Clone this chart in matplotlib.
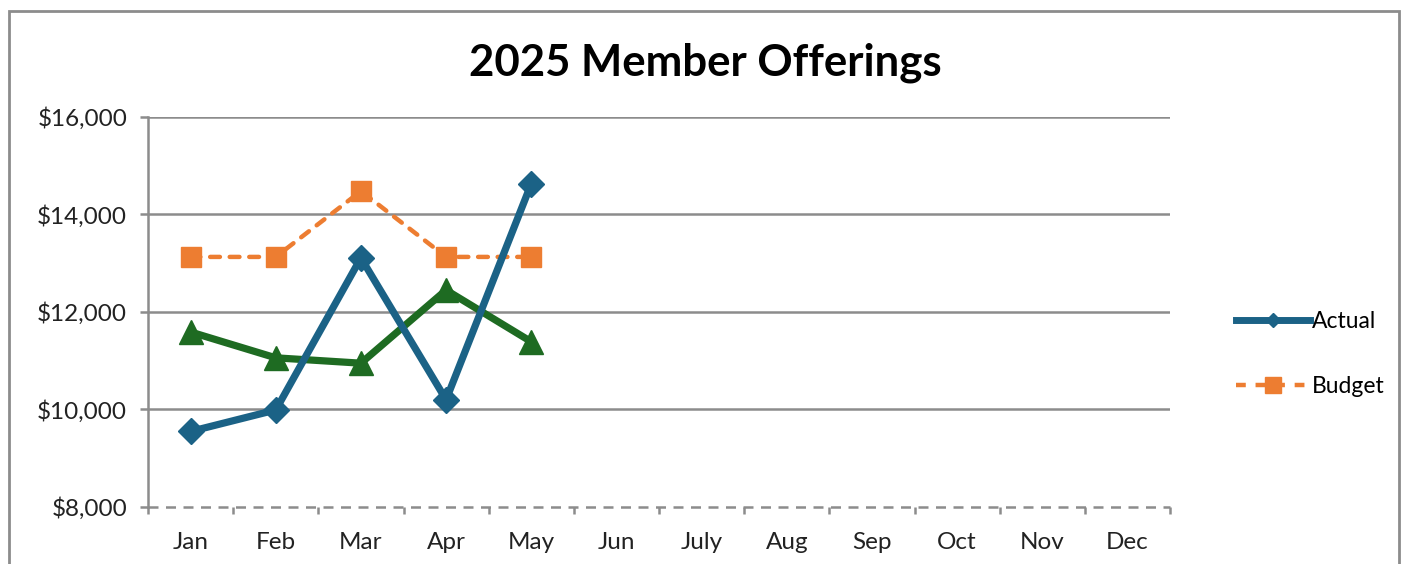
import matplotlib.pyplot as plt
from matplotlib.lines import Line2D
from matplotlib.patches import Rectangle
import matplotlib.ticker as ticker

# datos
months = ["Jan", "Feb", "Mar", "Apr", "May", "Jun", "July", "Aug", "Sep", "Oct", "Nov", "Dec"]
actual = [9550, 9990, 13110, 10200, 14630]
budget = [13130, 13130, 14480, 13130, 13130]
prior_year = [11590, 11060, 10950, 12450, 11390]
y_ticks = [8000, 10000, 12000, 14000, 16000]

c_actual = "#1b6286"
c_budget = "#ed7d31"
c_prior = "#1e6b22"
c_grid = "#8c8c8c"

plt.rcParams["font.family"] = ["Lato", "DejaVu Sans"]

fig = plt.figure(figsize=(14.07, 5.64), dpi=100)
ax = fig.add_axes([148 / 1407, 1 - 507 / 564, (1170 - 148) / 1407, (507 - 117) / 564])

# marco del grafico
fig.patches.append(Rectangle((9 / 1407, -0.05), (1399 - 9) / 1407, 1.05 - 11 / 564,
                             transform=fig.transFigure, fill=False, edgecolor="#8c8c8c", lw=2))

x = list(range(len(actual)))
ax.plot(x, prior_year, color=c_prior, lw=5.2, marker="^", ms=17, zorder=3)
ax.plot(x, budget, color=c_budget, lw=3.2, ls=(0, (2.2, 2.2)), marker="s", ms=15, zorder=3,
        dash_capstyle="round")
ax.plot(x, actual, color=c_actual, lw=5.2, marker="D", ms=13, zorder=4)

ax.set_xlim(-0.5, len(months) - 0.5)
ax.set_ylim(8000, 16000)

# rejilla
for v in y_ticks[1:]:
    ax.axhline(v, color=c_grid, lw=1.8, zorder=1)
ax.axhline(8000, color=c_grid, lw=1.8, ls=(0, (4, 3)), zorder=1, clip_on=False)

for s in ["top", "right", "bottom"]:
    ax.spines[s].set_visible(False)
ax.spines["left"].set_color(c_grid)
ax.spines["left"].set_linewidth(1.8)

ax.set_yticks(y_ticks)
ax.yaxis.set_major_formatter(ticker.FuncFormatter(lambda v, pos: "${:,.0f}".format(v)))
ax.tick_params(axis="y", length=6, width=1.8, color=c_grid, labelsize=17.5, pad=9,
               labelcolor="#222222")

ax.set_xticks([i - 0.5 for i in range(len(months) + 1)])
ax.set_xticklabels([])
ax.set_xticks(range(len(months)), minor=True)
ax.set_xticklabels(months, minor=True)
ax.tick_params(axis="x", which="major", length=5, width=1.8, color=c_grid)
ax.tick_params(axis="x", which="minor", length=0, labelsize=17.5, pad=18, labelcolor="#222222")

fig.text(705 / 1407, 1 - 63 / 564, "2025 Member Offerings", ha="center", va="center",
         fontsize=31.5, fontweight="bold")

handles = [
    Line2D([], [], color=c_actual, lw=5, marker="D", ms=7),
    Line2D([], [], color=c_budget, lw=3.2, ls=(0, (2.2, 2.2)), marker="s", ms=11),
]
fig.legend(handles, ["Actual", "Budget"], loc="center left",
           bbox_to_anchor=(1225 / 1407, 1 - 354 / 564), frameon=False, fontsize=16.5,
           handlelength=3.2, handletextpad=0.1, labelspacing=1.9, borderpad=0)

fig.savefig("out.png", dpi=100)
